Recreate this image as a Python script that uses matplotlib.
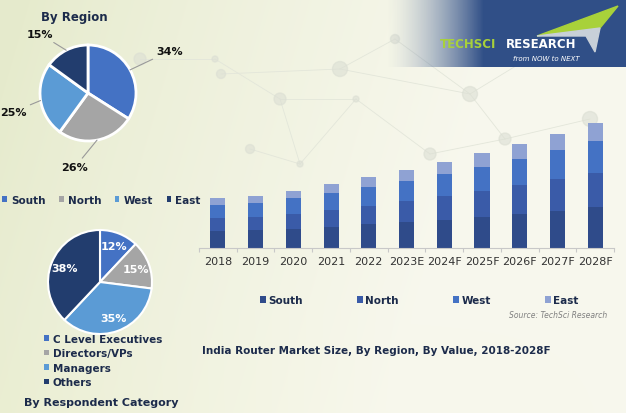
import numpy as np
import matplotlib
matplotlib.use('Agg')
import matplotlib.pyplot as plt
from matplotlib.patches import Patch, Polygon, Circle

# ---------------- data ----------------
years = ['2018', '2019', '2020', '2021', '2022', '2023E', '2024F', '2025F', '2026F', '2027F', '2028F']
south = [17.0, 18.3, 19.3, 21.3, 24.0, 26.0, 28.3, 31.3, 34.3, 37.3, 41.3]
north = [13.3, 13.0, 15.0, 17.0, 18.0, 21.0, 23.7, 25.7, 28.7, 31.7, 33.7]
west = [12.7, 13.7, 15.7, 16.7, 19.0, 20.0, 22.0, 24.0, 26.0, 29.0, 32.0]
east = [7.0, 7.0, 7.0, 9.0, 10.0, 11.0, 12.3, 14.3, 15.3, 16.3, 18.3]
series_names = ['South', 'North', 'West', 'East']

region_labels = ['South', 'North', 'West', 'East']
region_share = [34, 26, 25, 15]

resp_labels = ['C Level Executives', 'Directors/VPs', 'Managers', 'Others']
resp_share = [12, 15, 35, 38]

# ---------------- styles ----------------
W, H = 626, 414
NAVY = '#1c2b4b'
bar_colors = ['#2f4b8a', '#3a5ba8', '#4472c4', '#8fa2d3']
pie_colors = ['#4472c4', '#a5a5a5', '#5b9bd5', '#223d6e']

fig = plt.figure(figsize=(W / 100, H / 100), dpi=100)

# ---------------- background ----------------
bg = fig.add_axes([0, 0, 1, 1])
bg.set_xlim(0, W)
bg.set_ylim(H, 0)
bg.axis('off')
xx, yy = np.meshgrid(np.linspace(0, 1, W), np.linspace(0, 1, H))
c_left = np.array([0.90, 0.92, 0.80])
c_right = np.array([0.97, 0.97, 0.93])
t = np.clip(xx * 1.3 + 0.25 * yy - 0.05, 0, 1) ** 0.8
img = c_left[None, None, :] * (1 - t[..., None]) + c_right[None, None, :] * t[..., None]
bottom_band = np.clip((yy - 0.75) * 2, 0, 1) * (1 - xx) * 0.04
img = img - bottom_band[..., None] * np.array([0.0, 0.0, 0.6])[None, None, :]
bg.imshow(np.clip(img, 0, 1), extent=(0, W, H, 0), aspect='auto', zorder=0)

# faint network decoration
nodes = [(215, 60), (221, 75), (280, 100), (340, 70), (356, 100), (395, 40), (430, 155),
         (470, 95), (510, 10), (560, 40), (505, 140), (590, 120), (300, 165), (250, 150), (140, 60)]
edges = [(0, 2), (1, 3), (2, 4), (3, 5), (4, 6), (5, 7), (6, 10), (7, 9), (3, 7), (2, 12),
         (12, 13), (10, 11), (7, 10), (8, 9), (4, 12), (14, 0)]
for a, b in edges:
    bg.plot([nodes[a][0], nodes[b][0]], [nodes[a][1], nodes[b][1]], color='#e3e6da', lw=0.6, zorder=1)
for i, (nx, ny) in enumerate(nodes):
    bg.add_patch(Circle((nx, ny), 3 + (i % 4) * 1.5, color='#dcdfd4', alpha=0.6, zorder=1))

# banner with logo
banner = np.zeros((68, 246, 4))
bx = np.linspace(0, 1, 246)
alpha = np.clip((bx - 0.02) / 0.4, 0, 1) ** 1.5
banner[..., 0] = 0.19
banner[..., 1] = 0.31
banner[..., 2] = 0.53
banner[..., 3] = alpha[None, :]
bg.imshow(banner, extent=(380, 626, 68, 0), aspect='auto', zorder=2)
bg.add_patch(Polygon([(537, 37), (618, 7), (600, 29)], closed=True, color='#a8d13a', zorder=3))
bg.add_patch(Polygon([(537, 37), (600, 29), (595, 53), (586, 37)], closed=True, color='#c8d0d8', zorder=3))
bg.text(440, 45, 'TECHSCI', color='#a8d13a', fontsize=8.5, fontweight='bold', va='center', ha='left', zorder=4)
bg.text(506, 45, 'RESEARCH', color='white', fontsize=8.5, fontweight='bold', va='center', ha='left', zorder=4)
bg.text(513, 59, 'from NOW to NEXT', color='white', fontsize=5, style='italic', va='center', ha='left', zorder=4)

# ---------------- overlay for pies and texts ----------------
ov = fig.add_axes([0, 0, 1, 1])
ov.patch.set_alpha(0)


def Y(py):
    return H - py


# pie 1: By Region
w1, _ = ov.pie(region_share, colors=pie_colors, startangle=90, counterclock=False,
               center=(88, Y(94)), radius=48,
               wedgeprops=dict(edgecolor='white', linewidth=2))
label_pos = [(170, 52), (75, 168), (13, 113), (40, 35)]
for wdg, val, (lx, ly) in zip(w1, region_share, label_pos):
    ang = np.deg2rad((wdg.theta1 + wdg.theta2) / 2)
    ex, ey = 88 + 48 * np.cos(ang), Y(94) + 48 * np.sin(ang)
    ov.annotate(f'{val}%', xy=(ex, ey), xytext=(lx, Y(ly)), ha='center', va='center',
                fontsize=8, fontweight='bold', color='#111111',
                arrowprops=dict(arrowstyle='-', color='#999999', lw=0.8, shrinkA=1, shrinkB=0))

# pie 2: By Respondent Category
w2, _, autot = ov.pie(resp_share, colors=pie_colors, startangle=90, counterclock=False,
                      center=(100, Y(283)), radius=52, pctdistance=0.74,
                      autopct=lambda p: f'{p:.0f}%',
                      wedgeprops=dict(edgecolor='white', linewidth=1.5),
                      textprops=dict(color='white', fontsize=8, fontweight='bold'))

ov.set_xlim(0, W)
ov.set_ylim(0, H)
ov.set_aspect('auto')
ov.axis('off')

ov.text(74, Y(17), 'By Region', ha='center', va='center', fontsize=8.5, fontweight='bold', color=NAVY)
ov.text(101, Y(403), 'By Respondent Category', ha='center', va='center', fontsize=8, fontweight='bold', color=NAVY)
ov.text(202, Y(351), 'India Router Market Size, By Region, By Value, 2018-2028F', ha='left', va='center',
        fontsize=7.5, fontweight='bold', color=NAVY)
ov.text(607, Y(316), 'Source: TechSci Research', ha='right', va='center', fontsize=5.5,
        style='italic', color='#808080')

# pie legends
h1 = [Patch(facecolor=c) for c in pie_colors]
fig.legend(h1, region_labels, loc='center left', bbox_to_anchor=(2 / W, 1 - 201 / H), ncol=4,
           frameon=False, handlelength=0.45, handleheight=0.45, handletextpad=0.4,
           columnspacing=1.3, borderpad=0, borderaxespad=0,
           prop=dict(weight='bold', size=7.5))
fig.legend(h1, resp_labels, loc='upper left', bbox_to_anchor=(44 / W, 1 - 335 / H), ncol=1,
           frameon=False, handlelength=0.45, handleheight=0.45, handletextpad=0.4,
           labelspacing=0.42, borderpad=0, borderaxespad=0,
           prop=dict(weight='bold', size=7.5))

# ---------------- stacked bar chart ----------------
left_px, right_px, base_px, top_px = 199, 614, 249, 110
axb = fig.add_axes([left_px / W, 1 - base_px / H, (right_px - left_px) / W, (base_px - top_px) / H])
axb.patch.set_alpha(0)
x = np.arange(len(years))
bottom = np.zeros(len(years))
for name, vals, col in zip(series_names, [south, north, west, east], bar_colors):
    axb.bar(x, vals, width=0.4, bottom=bottom, color=col, label=name, linewidth=0)
    bottom += np.array(vals)
axb.set_xlim(-0.5, 10.5)
axb.set_ylim(0, base_px - top_px)
for s in ['top', 'right', 'left']:
    axb.spines[s].set_visible(False)
axb.spines['bottom'].set_color('#c8c8c8')
axb.spines['bottom'].set_linewidth(0.8)
axb.set_yticks([])
axb.set_xticks(x)
axb.set_xticklabels(years, fontsize=8, color='#333333')
axb.tick_params(axis='x', which='major', length=0, pad=6)
axb.set_xticks(np.arange(-0.5, 11, 1), minor=True)
axb.tick_params(axis='x', which='minor', length=3, color='#c8c8c8', width=0.8)

hb = [Patch(facecolor=c) for c in bar_colors]
fig.legend(hb, series_names, loc='center left', bbox_to_anchor=(260 / W, 1 - 301 / H), ncol=4,
           frameon=False, handlelength=0.6, handleheight=0.6, handletextpad=0.2,
           columnspacing=5.2, borderpad=0, borderaxespad=0,
           prop=dict(weight='bold', size=7.5))
for leg in fig.legends:
    for txt in leg.get_texts():
        txt.set_color(NAVY)

fig.savefig('out.png', dpi=100)
